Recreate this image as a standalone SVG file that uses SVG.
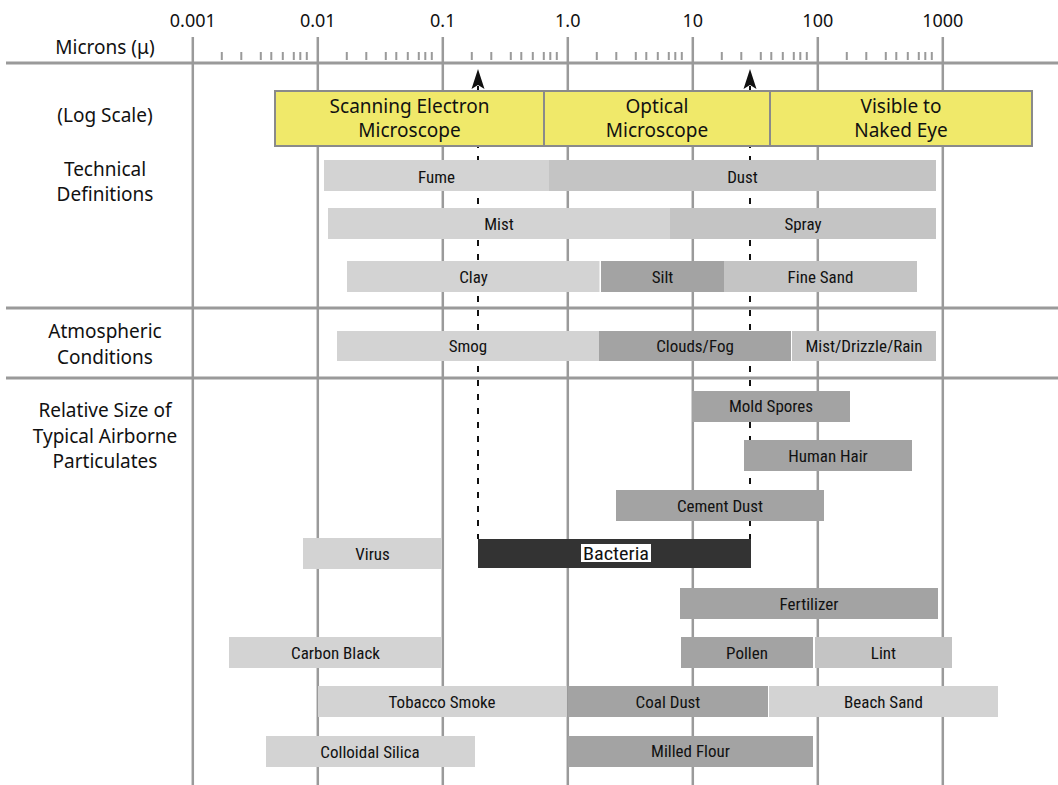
<svg xmlns="http://www.w3.org/2000/svg" width="1058" height="785" viewBox="0 0 1058 785">
<defs>
<style>
text{font-family:"Liberation Sans Narrow","Roboto Condensed","DejaVu Sans Condensed","Liberation Sans",sans-serif;fill:#111;text-anchor:middle}
.ax{font-family:"Noto Sans","Open Sans",sans-serif;font-size:18px}
.lb{font-family:"Noto Sans","Open Sans",sans-serif;font-size:19px}
.bl{font-size:17px}
.grid{stroke:#9a9a9a;stroke-width:2.5;fill:none}
.sep{stroke:#9a9a9a;stroke-width:3;fill:none}
.l{fill:#d3d3d3}
.m{fill:#c4c4c4}
.d{fill:#a3a3a3}
.k{fill:#333}
.y{fill:#f0e96a;stroke:#8a8a8a;stroke-width:2}
.dash{stroke:#111;stroke-width:2;stroke-dasharray:6 8;fill:none}
</style>
</defs>
<rect width="1058" height="785" fill="#fff"/>
<g id="grid">
<path class="grid" d="M192.8 37V785M317.8 37V785M442.8 37V785M567.8 37V785M692.8 37V785M817.8 37V785M942.8 37V785"/>
<path class="sep" d="M6 63H1058M6 308H1058M6 378H1058"/>
<path stroke="#9a9a9a" stroke-width="2" d="M221.8 52V60M241.3 52V60M260.8 52V60M271.3 52V60M282.8 52V60M293.8 52V60M300.3 52V60M306.8 52V60M346.8 52V60M366.3 52V60M385.8 52V60M396.3 52V60M407.8 52V60M418.8 52V60M425.3 52V60M431.8 52V60M471.8 52V60M491.3 52V60M510.8 52V60M521.3 52V60M532.8 52V60M543.8 52V60M550.3 52V60M556.8 52V60M596.8 52V60M616.3 52V60M635.8 52V60M646.3 52V60M657.8 52V60M668.8 52V60M675.3 52V60M681.8 52V60M721.8 52V60M741.3 52V60M760.8 52V60M771.3 52V60M782.8 52V60M793.8 52V60M800.3 52V60M806.8 52V60M846.8 52V60M866.3 52V60M885.8 52V60M896.3 52V60M907.8 52V60M918.8 52V60M925.3 52V60M931.8 52V60"/>
</g>
<g id="axis-labels">
<text class="ax" x="192.8" y="27">0.001</text>
<text class="ax" x="317.8" y="27">0.01</text>
<text class="ax" x="442.8" y="27">0.1</text>
<text class="ax" x="567.8" y="27">1.0</text>
<text class="ax" x="692.8" y="27">10</text>
<text class="ax" x="817.8" y="27">100</text>
<text class="ax" x="942.8" y="27">1000</text>
<text class="lb" x="105" y="54">Microns (μ)</text>
<text class="lb" x="105" y="122">(Log Scale)</text>
<text class="lb" x="105" y="176">Technical</text>
<text class="lb" x="105" y="201">Definitions</text>
<text class="lb" x="105" y="338">Atmospheric</text>
<text class="lb" x="105" y="364">Conditions</text>
<text class="lb" x="105" y="417">Relative Size of</text>
<text class="lb" x="105" y="443">Typical Airborne</text>
<text class="lb" x="105" y="468">Particulates</text>
</g>
<g id="connectors">
<path class="dash" d="M478 86V539"/>
<path class="dash" d="M750 86V539"/>
<path fill="#111" d="M478 69L484.5 89L478 85L471.5 89Z"/>
<path fill="#111" d="M750 69L756.5 89L750 85L743.5 89Z"/>
</g>
<g id="microscopes">
<g id="sem"><rect class="y" x="275" y="91" width="269" height="55"/><text class="lb" x="409.5" y="113">Scanning Electron</text><text class="lb" x="409.5" y="137">Microscope</text></g>
<g id="optical"><rect class="y" x="544" y="91" width="226" height="55"/><text class="lb" x="657" y="113">Optical</text><text class="lb" x="657" y="137">Microscope</text></g>
<g id="visible"><rect class="y" x="770" y="91" width="262" height="55"/><text class="lb" x="901" y="113">Visible to</text><text class="lb" x="901" y="137">Naked Eye</text></g>
</g>
<g id="technical">
<g id="fume"><rect class="l" x="324" y="160" width="225" height="31"/><text class="bl" x="436.5" y="183">Fume</text></g>
<g id="dust"><rect class="m" x="549" y="160" width="387" height="31"/><text class="bl" x="742.5" y="183">Dust</text></g>
<g id="mist"><rect class="l" x="328" y="208" width="342" height="31"/><text class="bl" x="499" y="230">Mist</text></g>
<g id="spray"><rect class="m" x="670" y="208" width="266" height="31"/><text class="bl" x="803" y="230">Spray</text></g>
<g id="clay"><rect class="l" x="347" y="261" width="252.5" height="31"/><text class="bl" x="473.5" y="283">Clay</text></g>
<g id="silt"><rect class="d" x="601" y="261" width="123" height="31"/><text class="bl" x="662.5" y="283">Silt</text></g>
<g id="fine-sand"><rect class="m" x="724" y="261" width="193" height="31"/><text class="bl" x="820.5" y="283">Fine Sand</text></g>
</g>
<g id="atmospheric">
<g id="smog"><rect class="l" x="337" y="331" width="262" height="30"/><text class="bl" x="468" y="352">Smog</text></g>
<g id="clouds-fog"><rect class="d" x="599" y="331" width="192" height="30"/><text class="bl" x="695" y="352">Clouds/Fog</text></g>
<g id="mist-drizzle-rain"><rect class="m" x="792" y="331" width="144" height="30"/><text class="bl" x="864" y="352">Mist/Drizzle/Rain</text></g>
</g>
<g id="particulates">
<g id="mold-spores"><rect class="d" x="692" y="391" width="158" height="31"/><text class="bl" x="771" y="412">Mold Spores</text></g>
<g id="human-hair"><rect class="d" x="744" y="440" width="168" height="31"/><text class="bl" x="828" y="462">Human Hair</text></g>
<g id="cement-dust"><rect class="d" x="616" y="490" width="208" height="31"/><text class="bl" x="720" y="512">Cement Dust</text></g>
<g id="virus"><rect class="l" x="303" y="538" width="139" height="31"/><text class="bl" x="372.5" y="560">Virus</text></g>
<g id="bacteria"><rect class="k" x="478" y="539" width="273" height="29"/><rect fill="#fff" x="581" y="544" width="70" height="18"/><text class="bl" x="616" y="559.5" style="font-size:19px" textLength="66" lengthAdjust="spacingAndGlyphs">Bacteria</text></g>
<g id="fertilizer"><rect class="d" x="680" y="588" width="258" height="31"/><text class="bl" x="809" y="610">Fertilizer</text></g>
<g id="carbon-black"><rect class="l" x="229" y="637" width="213" height="31"/><text class="bl" x="335.5" y="659">Carbon Black</text></g>
<g id="pollen"><rect class="d" x="681" y="637" width="132" height="31"/><text class="bl" x="747" y="659">Pollen</text></g>
<g id="lint"><rect class="m" x="815" y="637" width="137" height="31"/><text class="bl" x="883.5" y="659">Lint</text></g>
<g id="tobacco-smoke"><rect class="l" x="318" y="686" width="248" height="31"/><text class="bl" x="442" y="708">Tobacco Smoke</text></g>
<g id="coal-dust"><rect class="d" x="568" y="686" width="200" height="31"/><text class="bl" x="668" y="708">Coal Dust</text></g>
<g id="beach-sand"><rect class="l" x="769" y="686" width="229" height="31"/><text class="bl" x="883.5" y="708">Beach Sand</text></g>
<g id="colloidal-silica"><rect class="l" x="266" y="736" width="209" height="31"/><text class="bl" x="370" y="758">Colloidal Silica</text></g>
<g id="milled-flour"><rect class="d" x="568" y="736" width="245" height="31"/><text class="bl" x="690.5" y="757">Milled Flour</text></g>
</g>
</svg>
